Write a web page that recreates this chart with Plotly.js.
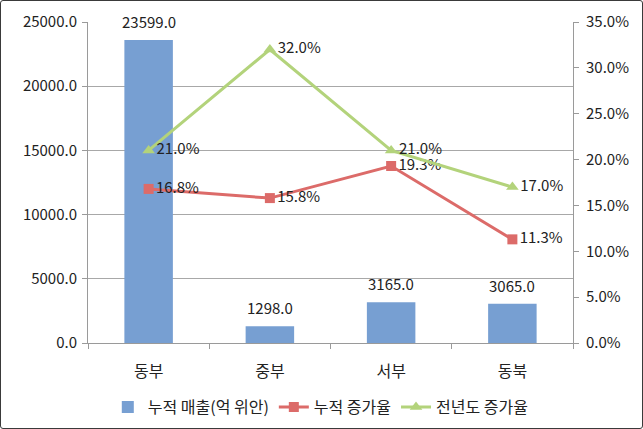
<!DOCTYPE html>
<html>
<head>
<meta charset="utf-8">
<script src="https://cdn.plot.ly/plotly-3.0.1.min.js"></script>
<style>
html,body{margin:0;padding:0;background:#fff;}
#wrap{position:relative;width:643px;height:429px;}
#chart{position:absolute;left:0;top:0;width:643px;height:429px;}
#frame{position:absolute;left:0;top:0;width:643px;height:429px;box-sizing:border-box;border:1px solid #3a3a3a;border-radius:3px;pointer-events:none;}
</style>
</head>
<body>
<div id="wrap"><div id="chart"></div><div id="frame"></div></div>
<script>
const categories = ['동부', '중부', '서부', '동북'];
const sales = [23599.0, 1298.0, 3165.0, 3065.0];
const cumGrowth = [16.8, 15.8, 19.3, 11.3];
const prevYearGrowth = [21.0, 32.0, 21.0, 17.0];
const seriesNames = ['누적 매출(억 위안)', '누적 증가율', '전년도 증가율'];

const font = {family: '"Noto Sans CJK KR", "Noto Sans", sans-serif', size: 15, color: '#222'};
const krFont = {family: '"Noto Sans CJK KR", "Noto Sans", sans-serif', size: 16, color: '#222'};

const traces = [
  {type: 'bar', name: seriesNames[0], x: categories, y: sales,
   marker: {color: '#779fd2'}, yaxis: 'y'},
  {type: 'scatter', mode: 'lines+markers+text', name: seriesNames[1], x: categories, y: cumGrowth,
   line: {color: '#dc6b69', width: 3}, marker: {symbol: 'square', size: 10, color: '#dc6b69'},
   text: cumGrowth.map(v => v.toFixed(1) + '%'), textposition: 'middle right', textfont: font,
   cliponaxis: false, yaxis: 'y2'},
  {type: 'scatter', mode: 'lines+markers+text', name: seriesNames[2], x: categories, y: prevYearGrowth,
   line: {color: '#b3d37b', width: 3}, marker: {symbol: 'triangle-up', size: 11, color: '#b3d37b'},
   text: prevYearGrowth.map(v => v.toFixed(1) + '%'), textposition: 'middle right', textfont: font,
   cliponaxis: false, yaxis: 'y2'}
];

const annotations = categories.map((c, i) => ({
  x: c, y: sales[i], xref: 'x', yref: 'y', text: sales[i].toFixed(1),
  showarrow: false, yanchor: 'bottom', yshift: 6, font: font
}));

const layout = {
  width: 643, height: 429,
  margin: {l: 88, r: 70, t: 22, b: 86, autoexpand: false},
  paper_bgcolor: '#fff', plot_bgcolor: '#fff',
  font: font,
  bargap: 0.6,
  showlegend: true,
  annotations: annotations,
  legend: {orientation: 'h', x: 0.48, xanchor: 'center', y: -0.2, yanchor: 'middle', font: krFont, itemwidth: 30, traceorder: 'normal'},
  xaxis: {type: 'category', showline: true, linecolor: '#9a9a9a', linewidth: 1,
          ticks: 'outside', tickson: 'boundaries', ticklen: 5, tickcolor: '#9a9a9a',
          ticklabelstandoff: 14, showgrid: false, tickfont: krFont},
  yaxis: {range: [0, 25000], dtick: 5000, tickformat: '.1f', showline: true, linecolor: '#9a9a9a',
          ticks: 'outside', ticklen: 5, tickcolor: '#9a9a9a', gridcolor: '#a8a8a8', gridwidth: 1,
          zeroline: false, tickfont: font, ticklabelstandoff: 2},
  yaxis2: {range: [0, 35], dtick: 5, tickformat: '.1f', ticksuffix: '%', overlaying: 'y', side: 'right',
           showline: true, linecolor: '#9a9a9a', ticks: 'outside', ticklen: 5, tickcolor: '#9a9a9a',
           showgrid: false, zeroline: false, tickfont: font, ticklabelstandoff: 4}
};

Plotly.newPlot('chart', traces, layout, {displayModeBar: false, staticPlot: true});
</script>
</body>
</html>
